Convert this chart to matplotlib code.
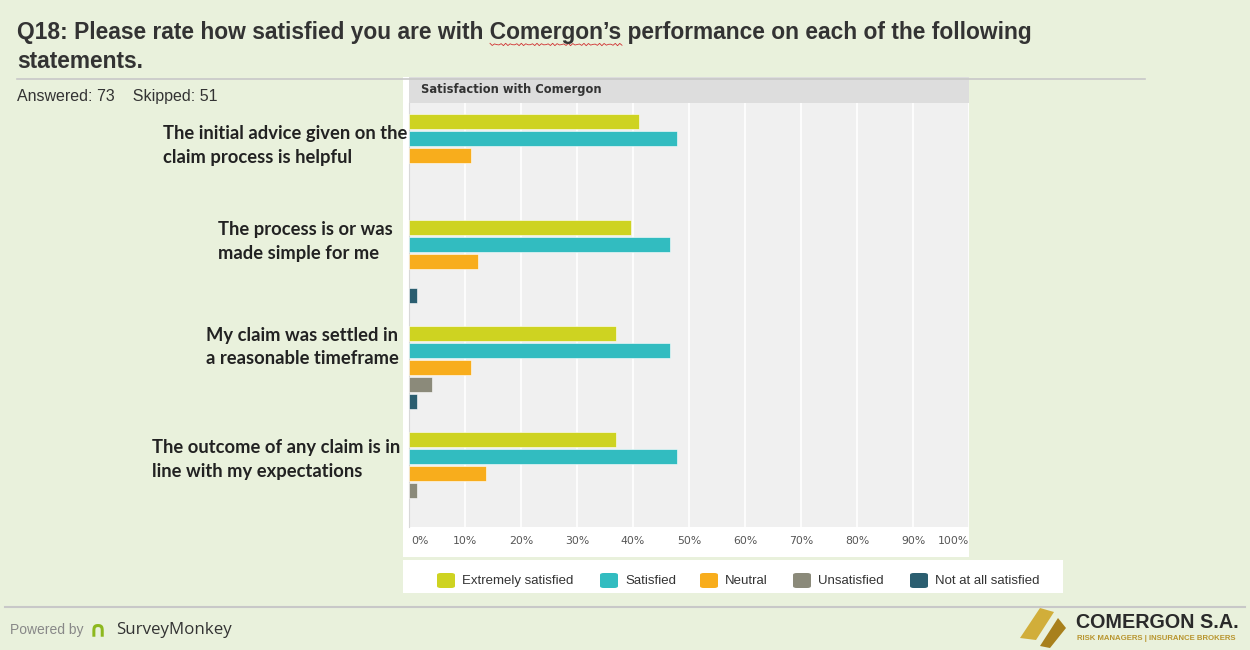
import matplotlib
matplotlib.use('Agg')
import matplotlib.pyplot as plt
import numpy as np
from matplotlib.patches import Rectangle, FancyBboxPatch, Polygon

statements = [
    "The initial advice given on the\nclaim process is helpful",
    "The process is or was\nmade simple for me",
    "My claim was settled in\na reasonable timeframe",
    "The outcome of any claim is in\nline with my expectations",
]
levels = ["Extremely satisfied", "Satisfied", "Neutral", "Unsatisfied", "Not at all satisfied"]
extremely   = [41.1, 39.7, 37.0, 37.0]
satisfied   = [47.9, 46.6, 46.6, 47.9]
neutral     = [11.0, 12.3, 11.0, 13.7]
unsatisfied = [0.0, 0.0, 4.1, 1.4]
not_at_all  = [0.0, 1.4, 1.4, 0.0]
ticks = [0, 10, 20, 30, 40, 50, 60, 70, 80, 90, 100]

colors = ["#CED321", "#32BCC0", "#F8AD1C", "#8B8A7A", "#2B5E70"]
series = [extremely, satisfied, neutral, unsatisfied, not_at_all]

W, H = 1250, 650
BG = "#E9F1DC"

def fx(x): return x / W
def fy(y): return 1 - y / H

fig = plt.figure(figsize=(12.5, 6.5), dpi=100, facecolor=BG)

# title block
fig.text(fx(17), fy(32), "Q18: Please rate how satisfied you are with Comergon\u2019s performance on each of the following",
         fontsize=16.4, fontweight="bold", color="#333333", family="Liberation Sans", va="center")
fig.text(fx(17), fy(61), "statements.", fontsize=16.4, fontweight="bold", color="#333333",
         family="Liberation Sans", va="center")
# spell-check squiggle under Comergon's
sx = np.linspace(490, 622, 60)
fig.add_artist(plt.Line2D(fx(sx), fy(44.5 + 1.2 * np.sin(sx * 1.6)), color="#D03030", lw=0.6))
fig.add_artist(plt.Line2D([fx(17), fx(1145)], [fy(79), fy(79)], color="#C8C8C8", lw=1.2))
fig.text(fx(17), fy(97), "Answered: 73    Skipped: 51", fontsize=11.5, color="#333333",
         family="Liberation Sans", va="center")

# white chart panel and header
fig.add_artist(Rectangle((fx(403), fy(557)), fx(566), 480 / H, facecolor="white", edgecolor="none", zorder=0))
fig.add_artist(Rectangle((fx(409), fy(103)), fx(560), 26 / H, facecolor="#DDDDDD", edgecolor="none", zorder=1))
fig.text(fx(421), fy(89), "Satisfaction with Comergon", fontsize=8.3, fontweight="bold", color="#333333",
         family="DejaVu Sans", va="center")

ax = fig.add_axes([fx(409), fy(527), fx(560), 424 / H])
ax.set_facecolor("#F0F0F0")

group_step, bar_step, bar_h = 106, 17, 15
for g in range(len(statements)):
    for j, (vals, c) in enumerate(zip(series, colors)):
        if vals[g] > 0:
            ax.barh(g * group_step + j * bar_step, vals[g], height=bar_h, color=c,
                    edgecolor="white", linewidth=0.4, zorder=3)

ax.set_xlim(0, 100)
ax.set_ylim(406, -18)
ax.set_xticks(ticks)
ax.xaxis.grid(True, color="white", lw=1.2, zorder=1)
ax.set_axisbelow(True)
ax.tick_params(length=0, labelbottom=False, labelleft=False)
ax.set_yticks([])
for s in ["top", "right", "bottom"]:
    ax.spines[s].set_visible(False)
ax.spines["left"].set_color("#D8D8D8")

for t in ticks:
    ha = "left" if t == 0 else ("right" if t == 100 else "center")
    xpos = 409 + 5.6 * t + (2 if t == 0 else 0)
    fig.text(fx(xpos), fy(541), f"{t}%", fontsize=7.8, color="#555555", ha=ha, va="center",
             family="DejaVu Sans")

# statement labels (placed by hand in the original, not centred on groups)
label_shift = [-9, -19, -20, -13]
label_left_px = [163, 218, 206, 152]
for g, s in enumerate(statements):
    ax.text((label_left_px[g] - 409) / 5.6, g * group_step + 2 * bar_step + label_shift[g], s,
            ha="left", va="center", fontsize=13.2, fontweight="bold",
            color="#222222", family="Lato", linespacing=1.5, clip_on=False)

# legend box
fig.add_artist(Rectangle((fx(403), fy(593)), fx(660), 33 / H, facecolor="white", edgecolor="none"))
patch_x = [437, 600, 700, 793, 910]
for px, lab, c in zip(patch_x, levels, colors):
    fig.add_artist(FancyBboxPatch((fx(px), fy(588)), fx(18), 15 / H,
                                  boxstyle="round,pad=0,rounding_size=0.003", facecolor=c, edgecolor="none"))
    fig.text(fx(px + 25), fy(581), lab, fontsize=9.5, color="#333333", va="center", family="Liberation Sans")

# footer
fig.add_artist(plt.Line2D([fx(5), fx(1245)], [fy(607), fy(607)], color="#C8C8C8", lw=1.5))
fig.text(fx(10), fy(630), "Powered by", fontsize=10, color="#888888", va="center", family="Liberation Sans")
fig.text(fx(89), fy(630), "\u2229", fontsize=16, color="#8DB81E", va="center", fontweight="bold")
fig.text(fx(116), fy(630), "SurveyMonkey", fontsize=12.2, color="#333333", va="center", family="Open Sans")

fig.add_artist(Polygon([(fx(1020), fy(638)), (fx(1040), fy(608)), (fx(1054), fy(612)), (fx(1036), fy(640))],
                       closed=True, facecolor="#D1AE3A", edgecolor="none"))
fig.add_artist(Polygon([(fx(1040), fy(646)), (fx(1058), fy(618)), (fx(1066), fy(628)), (fx(1050), fy(648))],
                       closed=True, facecolor="#A8801C", edgecolor="none"))
fig.text(fx(1076), fy(622), "COMERGON S.A.", fontsize=14.2, fontweight="bold", color="#2A2A2A",
         va="center", family="Liberation Sans")
fig.text(fx(1077), fy(638), "RISK MANAGERS | INSURANCE BROKERS", fontsize=5.6, fontweight="bold",
         color="#B8952E", va="center", family="Liberation Sans")

fig.savefig("out.png", dpi=100, facecolor=BG)
